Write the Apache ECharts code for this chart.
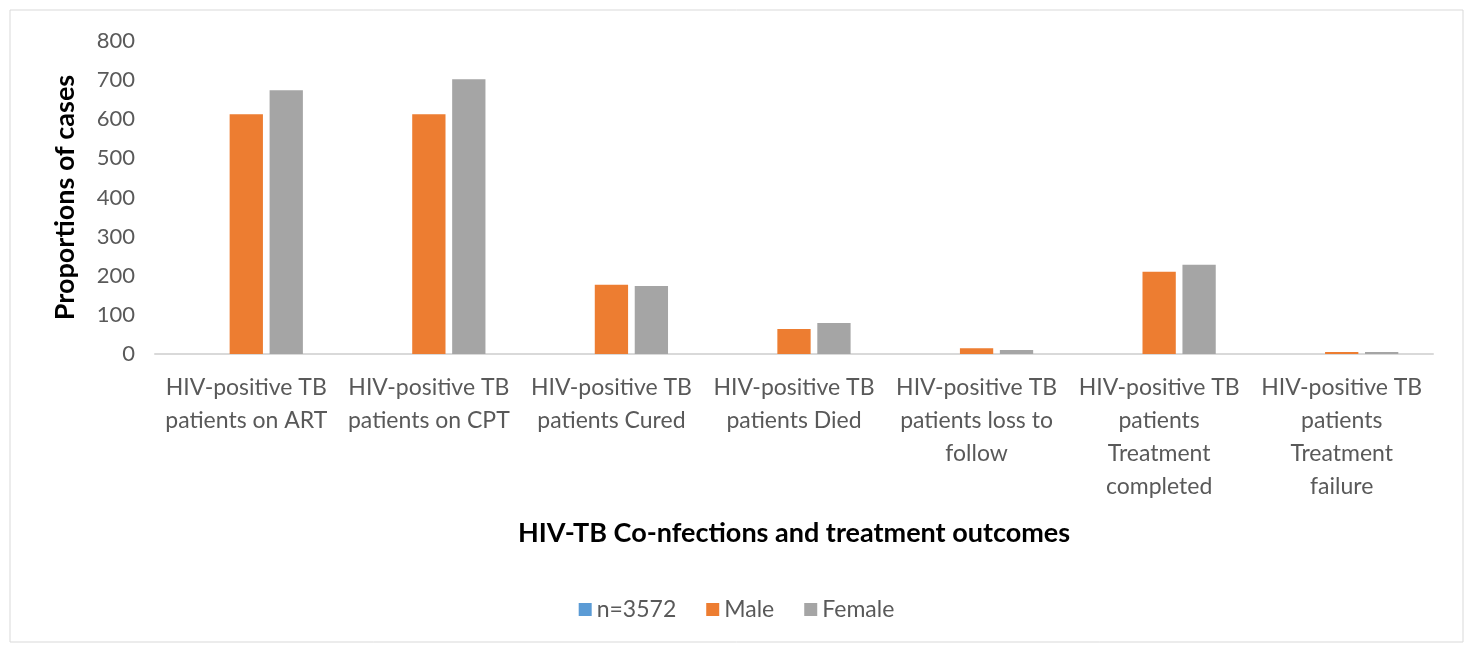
<!DOCTYPE html>
<html>
<head>
<meta charset="utf-8">
<script src="https://cdn.jsdelivr.net/npm/echarts@6/dist/echarts.min.js"></script>
<style>
  html, body { margin: 0; padding: 0; background: #fff; }
  #chart { width: 1473px; height: 648px; }
</style>
</head>
<body>
<div id="chart"></div>
<script>
// categories and values
var categories = [
  "HIV-positive TB\npatients on ART",
  "HIV-positive TB\npatients on CPT",
  "HIV-positive TB\npatients Cured",
  "HIV-positive TB\npatients Died",
  "HIV-positive TB\npatients loss to\nfollow",
  "HIV-positive TB\npatients\nTreatment\ncompleted",
  "HIV-positive TB\npatients\nTreatment\nfailure"
];
var totalVals = [0, 0, 0, 0, 0, 0, 0];
var maleVals = [613, 613, 177, 64, 15, 210, 5];
var femaleVals = [674, 702, 174, 79, 10, 228, 5];
var yTicks = [0, 100, 200, 300, 400, 500, 600, 700, 800];

var font = "Lato, 'Open Sans', sans-serif";
var chart = echarts.init(document.getElementById("chart"));

chart.setOption({
  animation: false,
  color: ["#5b9bd5", "#ed7d31", "#a5a5a5"],
  graphic: [{
    type: "rect",
    shape: { x: 10, y: 10, width: 1453, height: 632 },
    style: { fill: "none", stroke: "#d9d9d9", lineWidth: 1 }
  }],
  grid: { left: 155, right: 40, top: 41, bottom: 294 },
  legend: {
    bottom: 22,
    left: "center",
    itemWidth: 13, itemHeight: 13, itemGap: 30,
    icon: "rect",
    textStyle: { fontFamily: font, fontSize: 23, color: "#595959" },
    data: ["n=3572", "Male", "Female"]
  },
  xAxis: {
    type: "category",
    data: categories,
    name: "HIV-TB Co-nfections and treatment outcomes",
    nameLocation: "middle",
    nameGap: 166,
    nameTextStyle: { fontFamily: font, fontSize: 27, fontWeight: "bold", color: "#000" },
    axisLine: { lineStyle: { color: "#d9d9d9", width: 2 } },
    axisTick: { show: false },
    axisLabel: {
      interval: 0, margin: 17,
      fontFamily: font, fontSize: 23, color: "#595959", lineHeight: 33
    }
  },
  yAxis: {
    type: "value",
    min: 0, max: 800, interval: 100,
    name: "Proportions of cases",
    nameLocation: "middle",
    nameGap: 76,
    nameRotate: 90,
    nameTextStyle: { fontFamily: font, fontSize: 27, fontWeight: "bold", color: "#000" },
    splitLine: { show: false },
    axisLine: { show: false },
    axisTick: { show: false },
    axisLabel: {
      margin: 20, fontFamily: font, fontSize: 22, color: "#595959",
      formatter: function (v) { return yTicks.indexOf(v) >= 0 ? String(v) : ""; }
    }
  },
  series: [
    { name: "n=3572", type: "bar", data: totalVals, barGap: "20%", barCategoryGap: "38%" },
    { name: "Male", type: "bar", data: maleVals, barGap: "20%", barCategoryGap: "38%" },
    { name: "Female", type: "bar", data: femaleVals, barGap: "20%", barCategoryGap: "38%" }
  ]
});
</script>
</body>
</html>
